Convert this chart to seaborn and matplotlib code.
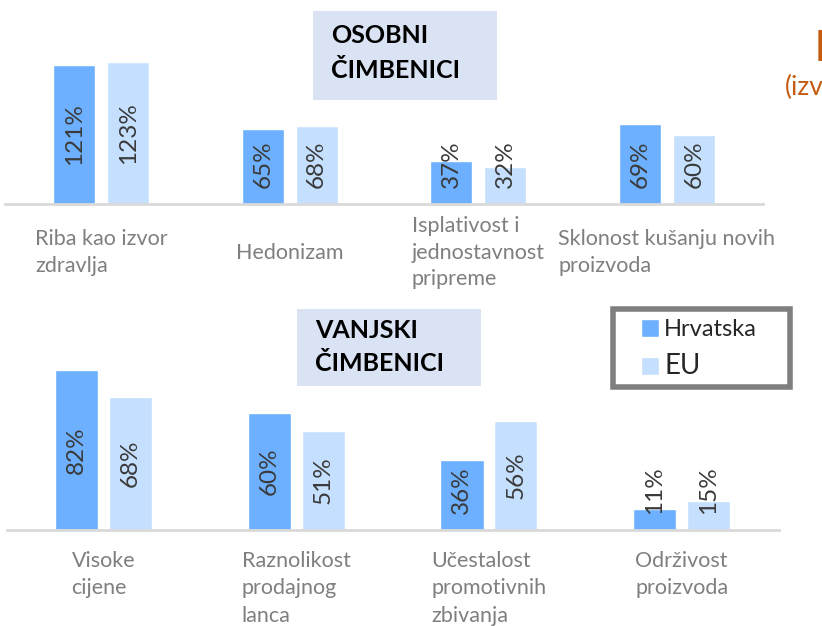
import matplotlib
matplotlib.use("Agg")
import matplotlib.pyplot as plt
from matplotlib.patches import Rectangle
import seaborn as sns
import pandas as pd

# podaci
osobni_kat = ["Riba kao izvor\nzdravlja", "Hedonizam",
              "Isplativost i\njednostavnost\npripreme",
              "Sklonost kušanju novih\nproizvoda"]
osobni_hr = [121, 65, 37, 69]
osobni_eu = [123, 68, 32, 60]

vanjski_kat = ["Visoke\ncijene", "Raznolikost\nprodajnog\nlanca",
               "Učestalost\npromotivnih\nzbivanja", "Održivost\nproizvoda"]
vanjski_hr = [82, 60, 36, 11]
vanjski_eu = [68, 51, 56, 15]

serije = ["Hrvatska", "EU"]
boje = ["#6cb0ff", "#c5e0ff"]

sns.set_style("white")
plt.rcParams["font.family"] = ["Lato", "DejaVu Sans"]

W, H = 822, 626
fig = plt.figure(figsize=(W / 100, H / 100), dpi=100)


def fx(px):
    return px / W


def fy(py):
    return 1 - py / H


def panel(kat, hr, eu, left, right, top, base, xlim, ymax, width, gap,
          label_pad, label_va, spacing, legend=False):
    ax = fig.add_axes([fx(left), fy(base), (right - left) / W, (base - top) / H])
    df = pd.DataFrame({
        "kategorija": kat * 2,
        "serija": [serije[0]] * len(kat) + [serije[1]] * len(kat),
        "vrijednost": hr + eu,
    })
    sns.barplot(data=df, x="kategorija", y="vrijednost", hue="serija",
                palette=boje, saturation=1, width=width, gap=gap,
                legend=legend, ax=ax)
    ax.set_xlim(*xlim)
    ax.set_ylim(0, ymax)
    ax.set_xlabel("")
    ax.set_ylabel("")
    ax.set_yticks([])
    sns.despine(ax=ax, left=True)
    ax.spines["bottom"].set_color("#d9d9d9")
    ax.spines["bottom"].set_linewidth(2)
    ax.tick_params(axis="x", length=0, pad=label_pad, labelsize=15.5,
                   labelcolor="#7f7f7f")
    for lab in ax.get_xticklabels():
        lab.set_verticalalignment(label_va)
        lab.set_multialignment("left")
        lab.set_linespacing(spacing)

    # oznake vrijednosti, okomito u stupcu
    renderer = fig.canvas.get_renderer()
    px_per_unit = (ax.transData.transform((0, 1))[1]
                   - ax.transData.transform((0, 0))[1])
    for cont, vals in zip(ax.containers, [hr, eu]):
        for bar, v in zip(cont, vals):
            xc = bar.get_x() + bar.get_width() / 2
            t = ax.text(xc, 0, f"{v}%", rotation=90, ha="center", va="center",
                        fontsize=17.5, color="#3a3a3a")
            L = t.get_window_extent(renderer).height
            c_px = max(v * px_per_unit / 2, 16 + L / 2)
            t.set_y(c_px / px_per_unit)
    return ax


ax1 = panel(osobni_kat, osobni_hr, osobni_eu, 5, 763, 0, 204,
            (-0.51, 3.51), 177, 0.572, 0.22, 35, "center", 1.4)
ax2 = panel(vanjski_kat, vanjski_hr, vanjski_eu, 7, 779, 300, 530,
            (-0.50, 3.505), 118, 0.56, 0.2, 15, "top", 1.47, legend=True)

# naslovi u okvirima
for (x0, y0, w, h, ty, ls, tekst) in [
        (313, 11, 184, 89, 53, 1.6, "OSOBNI\nČIMBENICI"),
        (297, 309, 184, 77, 347, 1.5, "VANJSKI\nČIMBENICI")]:
    fig.add_artist(Rectangle((fx(x0), fy(y0 + h)), w / W, h / H,
                             transform=fig.transFigure, facecolor="#dae3f3",
                             edgecolor="none"))
    fig.text(fx(x0 + 18), fy(ty), tekst, ha="left", va="center",
             fontsize=18, fontweight="bold", color="black", linespacing=ls)

# legenda s okvirom
fig.add_artist(Rectangle((fx(613), fy(387)), 177 / W, 78 / H,
                         transform=fig.transFigure, facecolor="white",
                         edgecolor="#7f7f7f", linewidth=4))
handles, labels = ax2.get_legend_handles_labels()
ax2.get_legend().remove()
leg = fig.legend(handles, labels, loc="upper left",
                 bbox_to_anchor=(fx(641), fy(319)), frameon=False,
                 fontsize=17, handlelength=0.78, handleheight=0.82,
                 handletextpad=0.2, labelspacing=0.55, borderpad=0,
                 borderaxespad=0)
leg.get_texts()[1].set_fontsize(20)

# odrezani naslov slajda (desni rub)
fig.text(fx(815), fy(49), "P", ha="left", va="center", fontsize=30,
         fontweight="bold", color="#c55a11")
fig.text(fx(785), fy(87), "(izvor", ha="left", va="center", fontsize=19,
         color="#c55a11")

fig.savefig("out.png", dpi=100)
